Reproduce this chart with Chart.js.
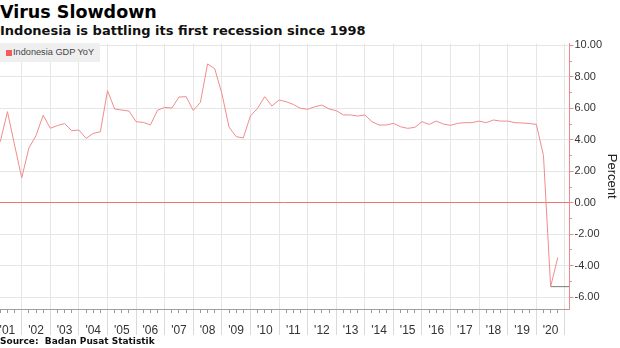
<!DOCTYPE html>
<html>
<head>
<meta charset="utf-8">
<script src="https://cdn.jsdelivr.net/npm/chart.js@4/dist/chart.umd.min.js"></script>
<style>
  html, body { margin: 0; padding: 0; background: #fff; }
  #wrap { position: relative; width: 620px; height: 348px; overflow: hidden; background: #fff; }
  #title { position: absolute; left: 0; top: 1px; font: bold 17.5px "DejaVu Sans"; line-height: 22px; color: #000; white-space: nowrap; }
  #subtitle { position: absolute; left: 0; top: 22px; font: bold 13px "DejaVu Sans"; line-height: 17px; color: #111; white-space: nowrap; }
  #source { position: absolute; left: 0; top: 336px; font: bold 9px "DejaVu Sans"; line-height: 11px; color: #111; white-space: pre; }
  #chart { position: absolute; left: 0; top: 0; }
  #legend { position: absolute; left: 0; top: 43px; width: 100px; height: 19px; background: #efefef; z-index: 2;
            font: 9.2px "Liberation Sans"; color: #444; line-height: 19px; white-space: nowrap; }
  #legend .sw { position: absolute; left: 6px; top: 6.5px; width: 6px; height: 6px; }
  #legend .tx { position: absolute; left: 13px; top: 0; }
</style>
</head>
<body>
<div id="wrap">
  <div id="title">Virus Slowdown</div>
  <div id="subtitle">Indonesia is battling its first recession since 1998</div>
  <canvas id="chart" width="620" height="337"></canvas>
  <div id="legend"></div>
  <div id="source">Source:  Badan Pusat Statistik</div>
</div>
<script>
// ---- Data ----
const seriesName = 'Indonesia GDP YoY';
const quarters = [
  '2001-Q1','2001-Q2','2001-Q3','2001-Q4',
  '2002-Q1','2002-Q2','2002-Q3','2002-Q4',
  '2003-Q1','2003-Q2','2003-Q3','2003-Q4',
  '2004-Q1','2004-Q2','2004-Q3','2004-Q4',
  '2005-Q1','2005-Q2','2005-Q3','2005-Q4',
  '2006-Q1','2006-Q2','2006-Q3','2006-Q4',
  '2007-Q1','2007-Q2','2007-Q3','2007-Q4',
  '2008-Q1','2008-Q2','2008-Q3','2008-Q4',
  '2009-Q1','2009-Q2','2009-Q3','2009-Q4',
  '2010-Q1','2010-Q2','2010-Q3','2010-Q4',
  '2011-Q1','2011-Q2','2011-Q3','2011-Q4',
  '2012-Q1','2012-Q2','2012-Q3','2012-Q4',
  '2013-Q1','2013-Q2','2013-Q3','2013-Q4',
  '2014-Q1','2014-Q2','2014-Q3','2014-Q4',
  '2015-Q1','2015-Q2','2015-Q3','2015-Q4',
  '2016-Q1','2016-Q2','2016-Q3','2016-Q4',
  '2017-Q1','2017-Q2','2017-Q3','2017-Q4',
  '2018-Q1','2018-Q2','2018-Q3','2018-Q4',
  '2019-Q1','2019-Q2','2019-Q3','2019-Q4',
  '2020-Q1','2020-Q2','2020-Q3'
];
const gdpYoY = [
  3.88, 5.79, 3.67, 1.58,
  3.48, 4.27, 5.56, 4.73,
  4.91, 5.03, 4.58, 4.62,
  4.09, 4.41, 4.51, 7.12,
  5.96, 5.89, 5.83, 5.15,
  5.11, 4.94, 5.88, 6.06,
  6.02, 6.72, 6.74, 5.87,
  6.38, 8.82, 8.52, 6.95,
  4.81, 4.20, 4.12, 5.52,
  6.00, 6.74, 6.15, 6.53,
  6.42, 6.25, 6.00, 5.94,
  6.10, 6.21, 5.96, 5.85,
  5.58, 5.58, 5.51, 5.58,
  5.15, 4.94, 4.94, 5.05,
  4.83, 4.73, 4.79, 5.15,
  4.98, 5.19, 5.00, 4.92,
  5.05, 5.09, 5.09, 5.19,
  5.09, 5.26, 5.19, 5.19,
  5.09, 5.07, 5.04, 4.98,
  3.00, -5.33, -3.48
];
const markerQuarter = '2020-Q2';   // grey reference line drawn from this quarter's value
const yearLabels = ["'01","'02","'03","'04","'05","'06","'07","'08","'09","'10",
                    "'11","'12","'13","'14","'15","'16","'17","'18","'19","'20"];
const firstYear = 2001;
const yMajorTicks = [-6, -4, -2, 0, 2, 4, 6, 8, 10];
const yAxisTitle = 'Percent';

// ---- Helpers ----
function quarterPos(q) {            // quarter end on a continuous year axis
  const [y, qq] = q.split('-Q');
  return Number(y) + Number(qq) / 4;
}
const xMin = 2001.24, xMax = 2021.16;
const yMin = -6.75, yMax = 10.12;

const linePoints = quarters.map((q, i) => ({ x: quarterPos(q), y: gdpYoY[i] }));
const markerVal = gdpYoY[quarters.indexOf(markerQuarter)];
const markerPoints = [{ x: quarterPos(markerQuarter), y: markerVal }, { x: xMax, y: markerVal }];

const xTickValues = [];
for (let y = firstYear; y <= firstYear + yearLabels.length; y++) {
  for (let q = 0; q < 4; q++) {
    const v = y + q / 4;
    if (v >= xMin && v <= xMax) xTickValues.push(v);
  }
}
const yTickValues = [];
for (let v = yMajorTicks[0]; v <= yMajorTicks[yMajorTicks.length - 1]; v++) yTickValues.push(v);

const isYear = v => v % 1 === 0;
const isMajorY = v => yMajorTicks.includes(v);
const isZero = v => Math.abs(v) < 1e-9;
const tv = ctx => (ctx && ctx.tick) ? ctx.tick.value : NaN;

const lineColor = '#f08c8c';
const swatchColor = '#f25c5c';
const axisRed = '#f08a8a';
const zeroRed = '#ea7373';

const chart = new Chart(document.getElementById('chart'), {
  type: 'line',
  data: {
    datasets: [
      { label: seriesName, data: linePoints, borderColor: lineColor, borderWidth: 1, pointRadius: 0, tension: 0, fill: false },
      { label: 'last', data: markerPoints, borderColor: '#7a7a7a', borderWidth: 1, pointRadius: 0, tension: 0, fill: false }
    ]
  },
  options: {
    responsive: false,
    animation: false,
    devicePixelRatio: 1,
    layout: { padding: { top: 43.5, left: 0, right: 0, bottom: 0 } },
    plugins: { legend: { display: false }, tooltip: { enabled: false }, title: { display: false } },
    scales: {
      x: {
        type: 'linear', position: 'bottom', min: xMin, max: xMax,
        afterBuildTicks: s => { s.ticks = xTickValues.map(v => ({ value: v })); },
        afterFit: s => { s.height = 28; },
        grid: {
          color: ctx => isYear(tv(ctx)) ? '#e6e6e6' : 'rgba(0,0,0,0)',
          tickColor: ctx => isYear(tv(ctx)) ? '#dadada' : '#999',
          tickBorderDash: ctx => isYear(tv(ctx)) ? [] : [3, 60],
          tickLength: 26,
          lineWidth: 1
        },
        border: { color: '#a0a0a0', width: 1 },
        ticks: {
          autoSkip: false, maxRotation: 0, minRotation: 0, padding: -12,
          color: '#333', font: { family: 'Liberation Sans', size: 12 },
          callback: v => (v % 1 === 0.5) ? (yearLabels[Math.floor(v) - firstYear] || '') : ''
        }
      },
      y: {
        type: 'linear', position: 'right', min: yMin, max: yMax,
        afterBuildTicks: s => { s.ticks = yTickValues.map(v => ({ value: v })); },
        afterFit: s => { s.width = 50.5; },
        grid: {
          color: ctx => { const v = tv(ctx); return isZero(v) ? zeroRed : (isMajorY(v) ? '#e6e6e6' : 'rgba(0,0,0,0)'); },
          tickColor: axisRed,
          tickBorderDash: ctx => isMajorY(tv(ctx)) ? [] : [2, 60],
          tickLength: 4,
          lineWidth: 1
        },
        border: { color: axisRed, width: 1 },
        ticks: {
          autoSkip: false, padding: 1, color: '#333',
          font: { family: 'Liberation Sans', size: 11 },
          callback: v => isMajorY(v) ? v.toFixed(2) : ''
        },
        title: {
          display: true, text: yAxisTitle, color: '#222',
          font: { family: 'Liberation Sans', size: 13 },
          padding: { top: 1, bottom: 0 }
        }
      }
    }
  }
});

// HTML legend built from the chart's first dataset
const lg = document.getElementById('legend');
const sw = document.createElement('span'); sw.className = 'sw'; sw.style.background = swatchColor;
const tx = document.createElement('span'); tx.className = 'tx'; tx.textContent = chart.data.datasets[0].label;
lg.appendChild(sw); lg.appendChild(tx);
</script>
</body>
</html>
